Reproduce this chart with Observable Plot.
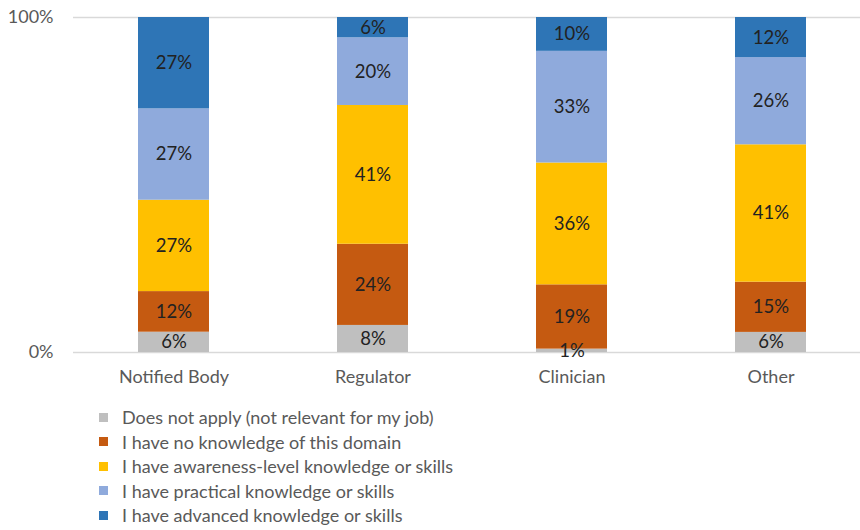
<!DOCTYPE html>
<html>
<head>
<meta charset="utf-8">
<script src="https://cdn.jsdelivr.net/npm/d3@7"></script>
<script src="https://cdn.jsdelivr.net/npm/@observablehq/plot@0.6"></script>
<style>
  body { margin: 0; background: #fff; font-family: Lato, "Noto Sans", sans-serif; }
  #chart svg { display: block; overflow: visible; }
  .legend { padding-top: 10px; padding-left: 99px; }
  .legend div { height: 24.5px; line-height: 24.5px; font-size: 18px; color: #595959; display: flex; align-items: center; }
  .legend span.sw { display: inline-block; width: 9px; height: 9px; margin-right: 14px; }
</style>
</head>
<body>
<div id="chart"></div>
<div class="legend" id="legend"></div>
<script>
const categories = ["Notified Body", "Regulator", "Clinician", "Other"];
const levels = [
  "Does not apply (not relevant for my job)",
  "I have no knowledge of this domain",
  "I have awareness-level knowledge or skills",
  "I have practical knowledge or skills",
  "I have advanced knowledge or skills"
];
const colors = ["#BFBFBF", "#C55A11", "#FFC000", "#8FAADC", "#2E75B6"];
// percentages per level, in category order
const doesNotApply = [6, 8, 1, 6];
const noKnowledge = [12, 24, 19, 15];
const awareness = [27, 41, 36, 41];
const practical = [27, 20, 33, 26];
const advanced = [27, 6, 10, 12];
const yTicks = [0, 1];
const yTickLabels = ["0%", "100%"];

const series = [doesNotApply, noKnowledge, awareness, practical, advanced];
const data = [];
series.forEach((vals, li) => {
  vals.forEach((v, ci) => data.push({category: categories[ci], level: levels[li], value: v}));
});

const chart = Plot.plot({
  width: 860,
  height: 395,
  marginLeft: 73,
  marginRight: 0,
  marginTop: 17,
  marginBottom: 43,
  style: {fontFamily: "Lato, 'Noto Sans', sans-serif", fontSize: "18px", color: "#595959", background: "#fff"},
  x: {domain: categories, range: [73, 871], paddingInner: 0.645, paddingOuter: 0.3225, label: null},
  y: {domain: [0, 1], label: null},
  color: {domain: levels, range: colors},
  marks: [
    Plot.ruleY(yTicks, {stroke: "#D9D9D9", strokeWidth: 1.3}),
    Plot.barY(data, Plot.stackY({x: "category", y: "value", fill: "level", order: levels, offset: "normalize"})),
    Plot.text(data, Plot.stackY({x: "category", y: "value", z: "level", order: levels, offset: "normalize",
      text: d => d.value + "%", fill: "#222", fontSize: 18.5})),
    Plot.axisX({tickSize: 0, tickPadding: 18, fontSize: 18, fill: "#595959"}),
    Plot.axisY({ticks: yTicks, tickFormat: (d, i) => yTickLabels[yTicks.indexOf(d)], tickSize: 0, tickPadding: 20, fontSize: 18, fill: "#595959"})
  ]
});
document.getElementById("chart").appendChild(chart);

const legend = document.getElementById("legend");
levels.forEach((l, i) => {
  const row = document.createElement("div");
  const sw = document.createElement("span");
  sw.className = "sw";
  sw.style.background = colors[i];
  row.appendChild(sw);
  row.appendChild(document.createTextNode(l));
  legend.appendChild(row);
});
</script>
</body>
</html>
